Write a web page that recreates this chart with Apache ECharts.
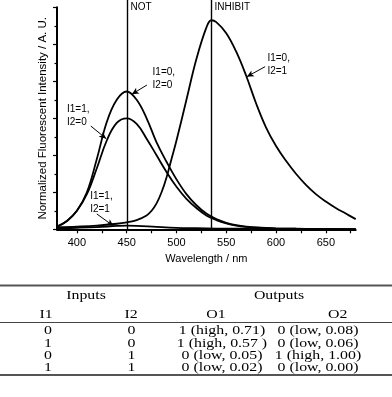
<!DOCTYPE html>
<html>
<head>
<meta charset="utf-8">
<script src="https://cdn.jsdelivr.net/npm/echarts@6/dist/echarts.min.js"></script>
<style>
html,body{margin:0;padding:0;background:#fff;}
#c{width:392px;height:397px;}
</style>
</head>
<body>
<div id="c"></div>
<script>
// ---- spectral data (wavelength nm, normalized intensity in axis units) ----
var wlAB = [380,390,400,410,420,430,440,450,460,470,480,490,500,510,520,530,540,550,560,570,580,590,600,620,640,660,680];
var curve00 = [0.015,0.045,0.10,0.20,0.38,0.58,0.70,0.745,0.70,0.60,0.47,0.365,0.27,0.19,0.13,0.085,0.055,0.035,0.022,0.014,0.01,0.007,0.005,0.003,0.002,0.001,0.001];
var curve10 = [0.015,0.045,0.10,0.19,0.33,0.48,0.575,0.60,0.57,0.49,0.40,0.31,0.23,0.165,0.115,0.075,0.05,0.032,0.02,0.013,0.009,0.006,0.004,0.003,0.002,0.001,0.001];
var wlC = [380,400,420,440,450,460,470,475,480,485,490,495,500,510,520,530,535,540,550,560,570,580,590,600,610,620,630,640,650,660,670,680];
var curve01 = [0.012,0.015,0.02,0.03,0.038,0.05,0.075,0.10,0.14,0.20,0.28,0.38,0.48,0.70,0.92,1.09,1.13,1.12,1.06,0.96,0.83,0.68,0.55,0.45,0.37,0.30,0.24,0.19,0.15,0.115,0.085,0.055];
var wlD = [380,400,420,440,450,460,480,500,520,540,560,600,640,680];
var curve11 = [0.005,0.008,0.012,0.018,0.02,0.019,0.013,0.008,0.006,0.004,0.003,0.002,0.001,0.0];

var xRange = {min:380, max:680};
var xLabelValues = [400,450,500,550,600,650];
var xTickValues = [400,425,450,475,500,525,550,575,600,625,650,675];
var gateLines = [450, 535];
var gateNames = ['NOT', 'INHIBIT'];

// annotation: label text, label anchor [wl, y], arrow from, arrow to
var annText = ['I1=0,\nI2=0', 'I1=1,\nI2=0', 'I1=0,\nI2=1', 'I1=1,\nI2=1'];
var annLabelPos = [[476,0.816],[390,0.612],[591.3,0.891],[413.3,0.142]];
var annFrom = [[470.3,0.78],[414,0.558],[589,0.879],[420,0.083]];
var annTo = [[455.2,0.73],[429.4,0.49],[570.7,0.825],[436.7,0.018]];

// ---- table ----
var tblGroupHeads = ['Inputs', 'Outputs'];
var tblColHeads = ['I1', 'I2', 'O1', 'O2'];
var tblI1 = ['0','1','0','1'];
var tblI2 = ['0','0','1','1'];
var tblO1 = ['1 (high, 0.71)', '1 (high, 0.57 )', '0 (low, 0.05)', '0 (low, 0.02)'];
var tblO2 = ['0 (low, 0.08)', '0 (low, 0.06)', '1 (high, 1.00)', '0 (low, 0.00)'];

function zip(xs, ys){ return xs.map(function(x,i){return [x, ys[i]];}); }

var chart = echarts.init(document.getElementById('c'), null, {renderer:'canvas'});
var FONT = 'Liberation Sans, Arial, sans-serif';
var lineSty = {color:'#000', width:1.8};

var arrowLines = annFrom.map(function(f,i){ return [{coord:f},{coord:annTo[i]}]; });

var option = {
  animation:false,
  backgroundColor:'#fff',
  grid:{left:57, right:36.3, top:7.3, bottom:167.7, containLabel:false},
  xAxis:{
    type:'value', min:xRange.min, max:xRange.max,
    name:'Wavelength / nm', nameLocation:'middle', nameGap:17,
    nameTextStyle:{color:'#000', fontSize:11, fontFamily:FONT},
    axisLine:{lineStyle:{color:'#000', width:2}},
    axisTick:{show:true, length:4, customValues:xTickValues, lineStyle:{color:'#000', width:1.2}},
    axisLabel:{color:'#000', fontSize:11, fontFamily:FONT, margin:8, customValues:xLabelValues},
    splitLine:{show:false}
  },
  yAxis:{
    type:'value', min:0, max:1.2, interval:0.2,
    name:'Normalized Fluorescent Intensity / A. U.', nameLocation:'middle', nameGap:8,
    nameTextStyle:{color:'#000', fontSize:11.5, fontFamily:FONT},
    axisLine:{show:true, lineStyle:{color:'#000', width:2}},
    axisTick:{show:true, length:4, lineStyle:{color:'#000', width:1.2}},
    minorTick:{show:true, splitNumber:2, length:2.5, lineStyle:{color:'#000', width:1.2}},
    axisLabel:{show:false},
    splitLine:{show:false}
  },
  series:[
    {type:'line', data:zip(wlAB, curve00), smooth:0.4, showSymbol:false, lineStyle:lineSty, itemStyle:{color:'#000'}},
    {type:'line', data:zip(wlAB, curve10), smooth:0.4, showSymbol:false, lineStyle:lineSty, itemStyle:{color:'#000'},
     markLine:{silent:true, symbol:['none','arrow'], symbolSize:[5,7], label:{show:false}, lineStyle:{color:'#000', width:1, type:'solid'}, data:arrowLines}},
    {type:'line', data:zip(wlC, curve01), smooth:0.4, showSymbol:false, lineStyle:lineSty, itemStyle:{color:'#000'}},
    {type:'line', data:zip(wlD, curve11), smooth:0.4, showSymbol:false, lineStyle:lineSty, itemStyle:{color:'#000'}}
  ]
};
chart.setOption(option);

// ---- gate lines, annotation texts and table via graphic ----
var g = [];
function px(p){ return chart.convertToPixel({gridIndex:0}, p); }
gateLines.forEach(function(w,i){
  var p0 = px([w, 0]);
  var xx = Math.round(p0[0]) + 0.5;
  g.push({type:'line', shape:{x1:xx, y1:0, x2:xx, y2:p0[1]}, style:{stroke:'#000', lineWidth:1.4}});
  g.push({type:'text', x:xx+3, y:7, style:{text:gateNames[i], fill:'#000', font:'10px '+FONT, textAlign:'left', textVerticalAlign:'middle'}});
});
annText.forEach(function(t,i){
  var p = px(annLabelPos[i]);
  g.push({type:'text', x:p[0], y:p[1], style:{text:t, fill:'#000', font:'10px '+FONT, lineHeight:13, textAlign:'left', textVerticalAlign:'middle'}});
});

var SERIF = 'Liberation Serif, Times New Roman, serif';
function ttext(t, x, y){
  return {type:'text', x:x, y:y, scaleX:1.22, style:{text:t, fill:'#000', font:'13px '+SERIF, textAlign:'center', textVerticalAlign:'middle'}};
}
var W = 392;
g.push({type:'line', shape:{x1:0,y1:285.5,x2:W,y2:285.5}, style:{stroke:'#555', lineWidth:2}});
g.push({type:'line', shape:{x1:0,y1:322.5,x2:W,y2:322.5}, style:{stroke:'#444', lineWidth:1}});
g.push({type:'line', shape:{x1:0,y1:375,x2:W,y2:375}, style:{stroke:'#555', lineWidth:2}});
var groupX = [86, 279];
tblGroupHeads.forEach(function(h,i){ g.push(ttext(h, groupX[i], 296)); });
var colX = [48, 131.5, 222, 318];
var headX = [46, 131, 216, 337.7];
tblColHeads.forEach(function(h,i){ g.push(ttext(h, headX[i], 314.2)); });
var rowY = [331, 343.3, 355.6, 367.9];
var cols = [tblI1, tblI2, tblO1, tblO2];
cols.forEach(function(col,c){
  col.forEach(function(v,r){ g.push(ttext(v, colX[c], rowY[r])); });
});
chart.setOption({graphic:{elements:g}});
</script>
</body>
</html>
